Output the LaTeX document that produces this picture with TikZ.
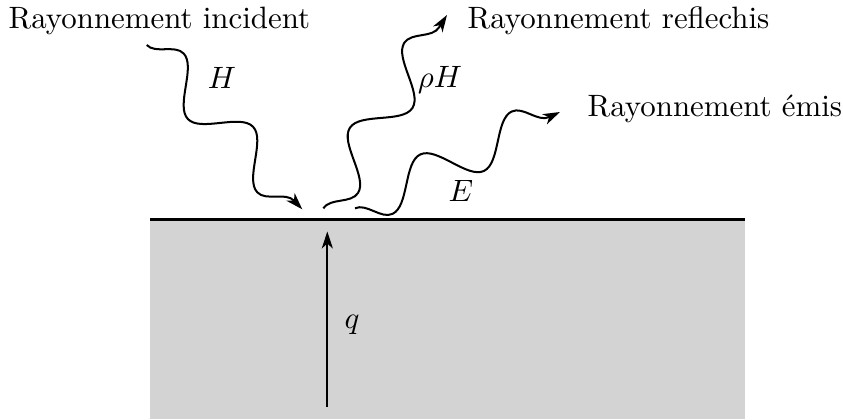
\documentclass[tikz,border=0pt]{standalone}
\usetikzlibrary{decorations.pathmorphing,arrows.meta}
\definecolor{solgray}{RGB}{211,211,211}
\begin{document}
\begin{tikzpicture}[x=0.3238pt,y=-0.3238pt,
  tip/.style={-{Stealth[length=5.5pt,width=3.6pt,inset=1.6pt]}},
  wave/.style={decorate,decoration={snake,segment length=32.7pt,amplitude=6.8pt},line width=0.65pt,tip},
  wavem/.style={decorate,decoration={snake,segment length=32.7pt,amplitude=6.8pt,mirror},line width=0.65pt,tip},
  txt/.style={inner sep=0pt,anchor=base west},
  lbl/.style={inner sep=0pt,anchor=base}]
\useasboundingbox (0,0) rectangle (843,419);
% solid body
\fill[solgray] (150,219.5) rectangle (745,419);
\coordinate (S0) at (150,219.5);
\coordinate (S1) at (745,219.5);
\draw[line width=0.75pt] (S0) -- (S1);
% texts
\node[txt] (tinc) at (8,28) {Rayonnement incident};
\node[txt] (tref) at (467,28) {Rayonnement reflechis};
\node[txt] (temi) at (587,116.7) {Rayonnement émis};
% labels
\node[lbl] (lH) at (222,88) {$H$};
\node[lbl] (lrH) at (440,87) {$\rho H$};
\node[lbl] (lE) at (461,201) {$E$};
\node[lbl] (lq) at (352,328) {$q$};
% wave end points
\coordinate (H0) at (146.7,45);
\coordinate (H1) at (302.3,209.3);
\coordinate (R0) at (323.3,208.3);
\coordinate (R1) at (447,15);
\coordinate (E0) at (355,208.3);
\coordinate (E1) at (560,112);
\coordinate (Q0) at (327.3,407);
\coordinate (Q1) at (327.3,231.5);
\draw[wave] (H0) -- (H1);
\draw[wavem] (R0) -- (R1);
\draw[wavem] (E0) -- (E1);
\draw[line width=0.65pt,tip] (Q0) -- (Q1);
\end{tikzpicture}
\end{document}
